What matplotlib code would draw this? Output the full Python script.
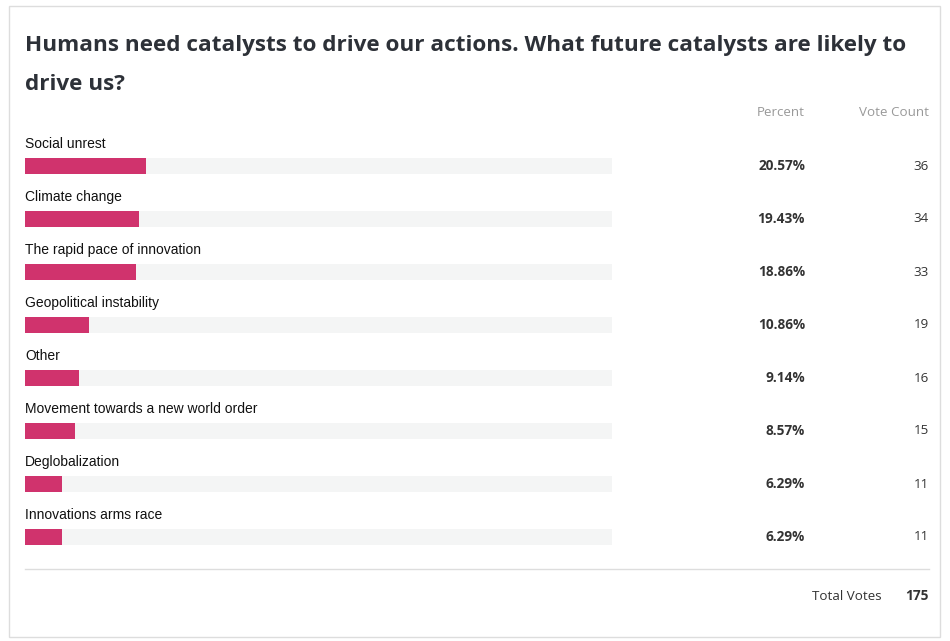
#!/usr/bin/env python3

import matplotlib.pyplot as plt
from matplotlib.patches import Rectangle

labels = ['Social unrest', 'Climate change', 'The rapid pace of innovation',
          'Geopolitical instability', 'Other', 'Movement towards a new world order',
          'Deglobalization', 'Innovations arms race']
percents = [20.57, 19.43, 18.86, 10.86, 9.14, 8.57, 6.29, 6.29]
votes = [36, 34, 33, 19, 16, 15, 11, 11]
total_votes = 175

W, H = 950, 641
fig = plt.figure(figsize=(W / 100, H / 100), dpi=100)
ax = fig.add_axes([0, 0, 1, 1])
ax.set_xlim(0, W)
ax.set_ylim(H, 0)
ax.axis('off')

bar_color = '#D0336D'
track_color = '#F4F5F5'
dark = '#333333'
grey = '#999999'

# outer border
ax.add_patch(Rectangle((8.5, 5.5), 931, 631, fill=False, edgecolor='#DDDDDD', lw=1))

ax.text(25, 45, 'Humans need catalysts to drive our actions. What future catalysts are likely to',
        fontsize=16.2, fontweight='bold', family='Open Sans', color='#2D3138', va='center')
ax.text(25, 85, 'drive us?',
        fontsize=16.2, fontweight='bold', family='Open Sans', color='#2D3138', va='center')

ax.text(805, 112, 'Percent', fontsize=9.6, family='Open Sans', color=grey, ha='right', va='center')
ax.text(929, 112, 'Vote Count', fontsize=9.6, family='Open Sans', color=grey, ha='right', va='center')

x0, track_w = 25, 587
for i, (lab, p, v) in enumerate(zip(labels, percents, votes)):
    y = 166 + 53 * i
    ax.text(x0, y - 22, lab, fontsize=10, family='Liberation Sans', color='#111111', va='center')
    ax.add_patch(Rectangle((x0, y - 8), track_w, 16, color=track_color, lw=0))
    ax.add_patch(Rectangle((x0, y - 8), track_w * p / 100, 16, color=bar_color, lw=0))
    ax.text(805, y, f'{p:.2f}%', fontsize=9.8, fontweight='bold', family='Open Sans',
            color=dark, ha='right', va='center')
    ax.text(929, y, str(v), fontsize=9.6, family='Open Sans', color=dark, ha='right', va='center')

ax.plot([25, 929], [568.5, 568.5], color='#DDDDDD', lw=1)
ax.text(882, 596, 'Total Votes', fontsize=9.6, family='Open Sans', color=dark, ha='right', va='center')
ax.text(929, 596, str(total_votes), fontsize=9.8, fontweight='bold', family='Open Sans',
        color=dark, ha='right', va='center')

plt.savefig('out.png', dpi=100)
plt.close()
